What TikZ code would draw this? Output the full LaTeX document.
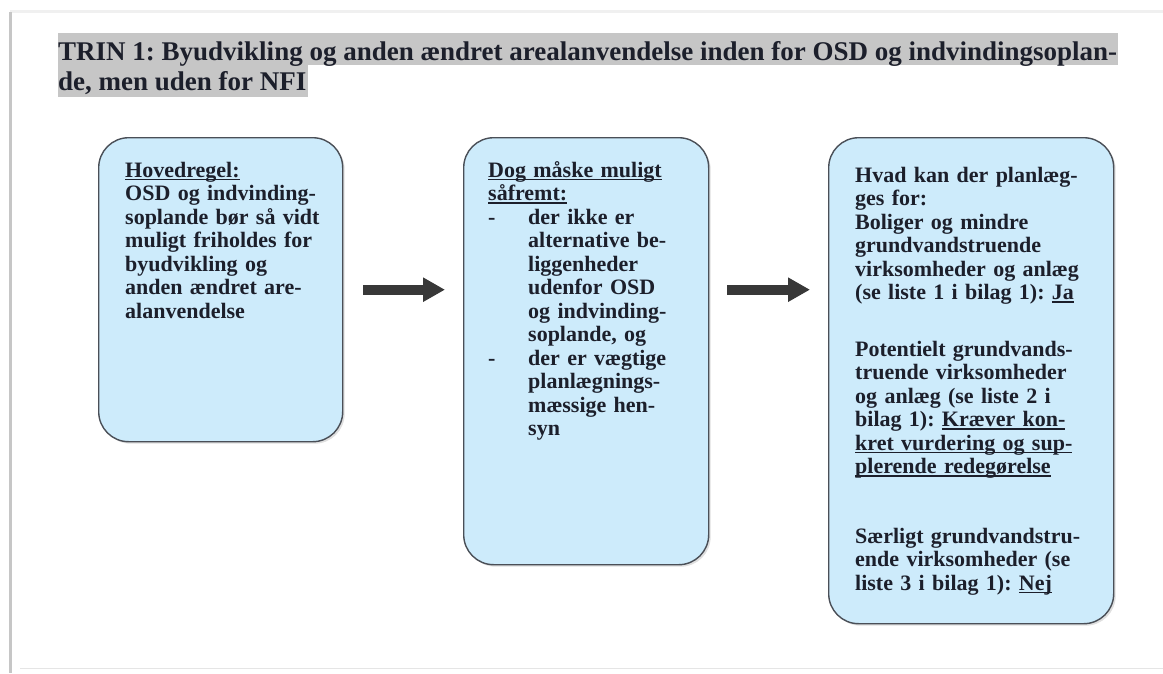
\documentclass[tikz,border=0pt]{standalone}
\usepackage{fontspec}
\setmainfont{Liberation Serif}
\usetikzlibrary{arrows.meta,shadows}
\definecolor{boxblue}{HTML}{CDEBFB}
\definecolor{boxedge}{HTML}{4A4F57}
\definecolor{txt}{HTML}{1C1F2B}
\definecolor{titlegray}{HTML}{C6C6C6}
\definecolor{arrowgray}{HTML}{383838}
\frenchspacing
\newsavebox{\myulbox}
\newcommand{\myul}[1]{\leavevmode\sbox{\myulbox}{#1}\rlap{\rule[-3.2pt]{\wd\myulbox}{1.4pt}}\usebox{\myulbox}}
\tikzset{
  flowbox/.style={draw=boxedge, line width=1.4pt, fill=boxblue, rounded corners=30pt,
    anchor=north west, inner sep=0pt,
    drop shadow={opacity=0.25, shadow xshift=2pt, shadow yshift=-2pt}},
  boxtext/.style={anchor=base west, inner sep=0pt, align=left, text width=260pt, text=txt,
    font=\fontsize{22}{23.5}\selectfont\bfseries\frenchspacing},
  titletext/.style={anchor=base west, inner sep=0pt, text=txt,
    font=\fontsize{27}{30}\selectfont\bfseries\frenchspacing},
  band/.style={fill=titlegray, draw=none, inner sep=0pt, anchor=north west},
  blockarrow/.style={line width=10pt, draw=arrowgray,
    -{Triangle[length=22pt, width=23pt]}}
}
\begin{document}
\begin{tikzpicture}[x=1pt, y=-1pt]
\useasboundingbox (0,0) rectangle (1163,673);
% page edges
\fill[gray!12] (10,10) rectangle (1163,13);
\fill[gray!45] (9,12) rectangle (12,673);
\draw[gray!20, line width=0.8pt] (20,668) -- (1163,668);
% title bands
\node[band, minimum width=1060pt, minimum height=32pt] (band1) at (58,33) {};
\node[band, minimum width=250pt, minimum height=32pt] (band2) at (58,65) {};
\node[titletext] (title1) at (58,60) {TRIN 1: Byudvikling og anden ændret arealanvendelse inden for OSD og indvindingsoplan-};
\node[titletext] (title2) at (58,90) {de, men uden for NFI};
% boxes
\node[flowbox, minimum width=244pt, minimum height=304pt] (b1) at (98,137) {};
\node[flowbox, minimum width=245pt, minimum height=427pt] (b2) at (463,137) {};
\node[flowbox, minimum width=285pt, minimum height=486pt] (b3) at (828,137) {};
% box texts
\node[boxtext] (t1) at (125,177) {\myul{Hovedregel:}\\
OSD og indvinding-\\
soplande bør så vidt\\
muligt friholdes for\\
byudvikling og\\
anden ændret are-\\
alanvendelse};
\node[boxtext] (t2) at (488,177) {\myul{Dog måske muligt}\\
\myul{såfremt:}\\
\makebox[40pt][l]{-}der ikke er\\
\hspace*{40pt}alternative be-\\
\hspace*{40pt}liggenheder\\
\hspace*{40pt}udenfor OSD\\
\hspace*{40pt}og indvinding-\\
\hspace*{40pt}soplande, og\\
\makebox[40pt][l]{-}der er vægtige\\
\hspace*{40pt}planlægnings-\\
\hspace*{40pt}mæssige hen-\\
\hspace*{40pt}syn};
\node[boxtext] (t3) at (855,182) {Hvad kan der planlæg-\\
ges for:\\
Boliger og mindre\\
grundvandstruende\\
virksomheder og anlæg\\
(se liste 1 i bilag 1): \myul{Ja}\\[33pt]
Potentielt grundvands-\\
truende virksomheder\\
og anlæg (se liste 2 i\\
bilag 1): \myul{Kræver kon-}\\
\myul{kret vurdering og sup-}\\
\myul{plerende redegørelse}\\[46pt]
Særligt grundvandstru-\\
ende virksomheder (se\\
liste 3 i bilag 1): \myul{Nej}};
% arrows
\draw[blockarrow] ([xshift=20pt]b1.east) -- ([xshift=-18pt]b1.east -| b2.west);
\draw[blockarrow] ([xshift=18pt]b1.east -| b2.east) -- ([xshift=-18pt]b1.east -| b3.west);
\end{tikzpicture}
\end{document}
